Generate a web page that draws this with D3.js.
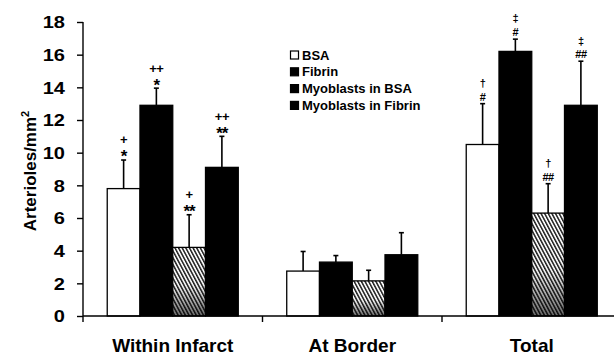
<!DOCTYPE html>
<html>
<head>
<meta charset="utf-8">
<script src="https://cdn.jsdelivr.net/npm/d3@7/dist/d3.min.js"></script>
<style>
  html, body { margin: 0; padding: 0; background: #fff; }
  svg { display: block; }
  text { font-family: "Liberation Sans", Arial, Helvetica, sans-serif; font-weight: bold; fill: #000; }
</style>
</head>
<body>
<svg id="chart" width="614" height="358"></svg>
<script>
// Arteriole density by region and treatment group (mean ± SD)
const categories = ["Within Infarct", "At Border", "Total"];
const series = ["BSA", "Fibrin", "Myoblasts in BSA", "Myoblasts in Fibrin"];
const means = [
  [7.8, 12.9, 4.2, 9.1],
  [2.75, 3.3, 2.15, 3.75],
  [10.5, 16.2, 6.3, 12.9]
];
const sds = [
  [1.75, 1.05, 2.0, 1.9],
  [1.2, 0.4, 0.65, 1.35],
  [2.5, 0.75, 1.8, 2.7]
];
// significance markers: upper and lower symbol above each error bar
const markTop = [
  ["+", "++", "+", "++"],
  ["", "", "", ""],
  ["\u2020", "\u2021", "\u2020", "\u2021"]
];
const markBottom = [
  ["*", "*", "**", "**"],
  ["", "", "", ""],
  ["#", "#", "##", "##"]
];
const yTicks = [0, 2, 4, 6, 8, 10, 12, 14, 16, 18];

const svg = d3.select("#chart");
const plotLeft = 83, plotBottom = 316, plotTop = 22;

const y = d3.scaleLinear().domain([0, 18]).range([plotBottom, plotTop]);
const x0 = d3.scaleBand().domain(categories).range([plotLeft, 621.5])
  .paddingInner(0.27).paddingOuter(0.135);
const x1 = d3.scaleBand().domain(series).range([0, x0.bandwidth()]);

// fill pattern for the myoblasts-in-BSA bars
const defs = svg.append("defs");
const pat = defs.append("pattern").attr("id", "hatch")
  .attr("patternUnits", "userSpaceOnUse").attr("width", 3.2).attr("height", 6)
  .attr("patternTransform", "rotate(-28)");
pat.append("rect").attr("width", 3.2).attr("height", 6).attr("fill", "#fff");
pat.append("rect").attr("width", 1.5).attr("height", 6).attr("fill", "#222");
const grad = defs.append("linearGradient").attr("id", "shade")
  .attr("x1", 0).attr("y1", 0).attr("x2", 0).attr("y2", 1);
grad.append("stop").attr("offset", "0%").attr("stop-color", "#000").attr("stop-opacity", 0);
grad.append("stop").attr("offset", "55%").attr("stop-color", "#000").attr("stop-opacity", 0.05);
grad.append("stop").attr("offset", "100%").attr("stop-color", "#000").attr("stop-opacity", 0.6);

const fills = { "BSA": "#fff", "Fibrin": "#000", "Myoblasts in BSA": "url(#hatch)", "Myoblasts in Fibrin": "#000" };

const rows = [];
categories.forEach((c, i) => series.forEach((s, j) => rows.push({
  cat: c, ser: s, mean: means[i][j], sd: sds[i][j], up: markTop[i][j], low: markBottom[i][j]
})));

const g = svg.append("g");
const groups = g.selectAll("g.grp").data(rows).join("g")
  .attr("transform", d => `translate(${x0(d.cat) + x1(d.ser)},0)`);

const bw = x1.bandwidth();
// error bars first so the bar top covers their base
groups.append("line")
  .attr("x1", bw / 2).attr("x2", bw / 2)
  .attr("y1", d => y(d.mean)).attr("y2", d => y(d.mean + d.sd))
  .attr("stroke", "#000").attr("stroke-width", 1.6);
groups.append("line")
  .attr("x1", bw / 2 - 2.5).attr("x2", bw / 2 + 2.5)
  .attr("y1", d => y(d.mean + d.sd)).attr("y2", d => y(d.mean + d.sd))
  .attr("stroke", "#000").attr("stroke-width", 1.6);

groups.append("rect")
  .attr("x", 0).attr("width", bw)
  .attr("y", d => y(d.mean)).attr("height", d => y(0) - y(d.mean))
  .attr("fill", d => fills[d.ser])
  .attr("stroke", "#000").attr("stroke-width", 1.3);
groups.filter(d => d.ser === "Myoblasts in BSA").append("rect")
  .attr("x", 0).attr("width", bw)
  .attr("y", d => y(d.mean)).attr("height", d => y(0) - y(d.mean))
  .attr("fill", "url(#shade)");

// significance symbols
const isStar = s => s.startsWith("*");
groups.append("text")
  .attr("x", bw / 2).attr("y", d => y(d.mean + d.sd) - 7)
  .attr("text-anchor", "middle")
  .attr("font-size", d => isStar(d.low) ? 17 : 11)
  .attr("dy", d => isStar(d.low) ? "0.55em" : "0.36em")
  .attr("letter-spacing", d => isStar(d.low) ? -1 : -0.5)
  .style("fill", "#000")
  .text(d => d.low);
groups.append("text")
  .attr("x", bw / 2).attr("y", d => y(d.mean + d.sd) - 20)
  .attr("text-anchor", "middle")
  .attr("font-size", d => d.up.startsWith("+") ? 13 : 11)
  .attr("dy", d => d.up.startsWith("+") ? "0.34em" : "0.3em")
  .attr("letter-spacing", -0.5)
  .style("fill", "#000")
  .text(d => d.up);

// y axis
const yAxis = svg.append("g").attr("transform", `translate(${plotLeft},0)`)
  .call(d3.axisLeft(y).tickValues(yTicks).tickSize(6).tickPadding(0).tickFormat(d3.format("d")));
yAxis.select(".domain").attr("stroke", "#000").attr("stroke-width", 1.4).attr("d", `M0,${plotTop}V${plotBottom}`);
yAxis.selectAll(".tick line").attr("stroke", "#000").attr("stroke-width", 1.4);
yAxis.selectAll(".tick text").attr("font-size", 16).attr("font-family", null)
  .attr("x", null).attr("dy", "0.36em")
  .attr("transform", "translate(-18,0) scale(1.25,1)");

// x axis: baseline with boundary ticks between categories
const step = x0.step();
const bounds = [0, 1, 2, 3].map(i => x0(categories[0]) - step * x0.paddingInner() / 2 + i * step);
svg.append("line").attr("x1", plotLeft).attr("x2", 614).attr("y1", plotBottom).attr("y2", plotBottom)
  .attr("stroke", "#000").attr("stroke-width", 1.4);
svg.selectAll("line.bt").data(bounds).join("line").attr("class", "bt")
  .attr("x1", d => d).attr("x2", d => d).attr("y1", plotBottom).attr("y2", plotBottom + 6)
  .attr("stroke", "#000").attr("stroke-width", 1.4);
svg.selectAll("text.cat").data(categories).join("text").attr("class", "cat")
  .attr("x", d => x0(d) + x0.bandwidth() / 2).attr("y", 352)
  .attr("text-anchor", "middle").attr("font-size", 19)
  .text(d => d);

// y axis title
const yt = svg.append("text")
  .attr("transform", "translate(36,171) rotate(-90)")
  .attr("text-anchor", "middle").attr("font-size", 17);
yt.append("tspan").text("Arterioles/mm");
yt.append("tspan").attr("font-size", 11).attr("dy", -7).text("2");

// legend
const lg = svg.append("g").attr("transform", "translate(290,49)");
const li = lg.selectAll("g").data(series).join("g")
  .attr("transform", (d, i) => `translate(0,${i * 16.8})`);
li.append("rect").attr("width", 8).attr("height", 8).attr("x", 0.5).attr("y", 2)
  .attr("fill", (d, i) => i === 0 ? "#fff" : "#000").attr("stroke", "#000").attr("stroke-width", 1.2);
li.append("text").attr("x", 12).attr("y", 6).attr("dy", "0.36em")
  .attr("font-size", 13).text(d => d);
</script>
</body>
</html>
